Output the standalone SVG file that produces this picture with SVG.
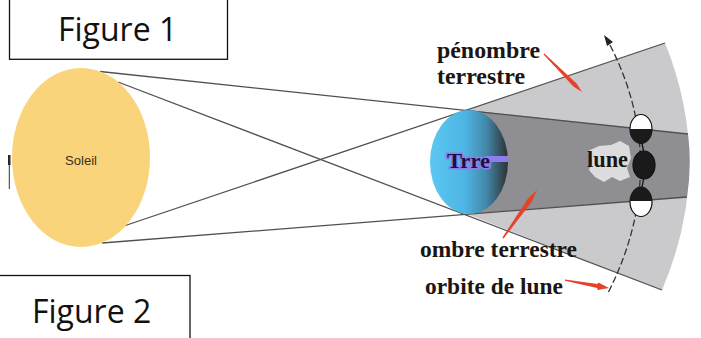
<svg xmlns="http://www.w3.org/2000/svg" width="701" height="338" viewBox="0 0 701 338">
  <defs>
    <linearGradient id="earthGrad" x1="0" y1="0" x2="1" y2="0">
      <stop offset="0" stop-color="#5CC8F2"/>
      <stop offset="0.45" stop-color="#4DB5E3"/>
      <stop offset="0.72" stop-color="#4288AB"/>
      <stop offset="1" stop-color="#2E3032"/>
    </linearGradient>
    <style>
      .fig { font-family: "Open Sans", "Liberation Sans", sans-serif; font-size: 32px; fill: #111; }
      .box { fill: #fff; stroke: #111; stroke-width: 1.3; }
      .lbl { font-family: "Liberation Serif", "Times New Roman", serif; font-weight: bold; font-size: 23px; fill: #1c1612; }
      .ray { stroke: #505050; stroke-width: 1.3; fill: none; }
      .red { fill: #E4422A; }
      .moon { stroke: #111; stroke-width: 1.2; }
    </style>
  </defs>

  <rect width="701" height="338" fill="#fff"/>

  <!-- shadow regions -->
  <g id="penombre">
    <path d="M467,110 L665,43 Q715,166 662,290 L467,214 Z" fill="#CACACC"/>
  </g>
  <g id="ombre">
    <path d="M468,110 L688,134 Q692,165 687,197 L467,214 Z" fill="#8F8F93"/>
  </g>

  <!-- rays -->
  <g id="connectors">
    <line class="ray" x1="100" y1="71.5" x2="688" y2="134"/>
    <line class="ray" x1="102" y1="243" x2="687" y2="197"/>
    <line class="ray" x1="118" y1="82" x2="662" y2="290"/>
    <line class="ray" x1="118" y1="228" x2="665" y2="43"/>
    <!-- orbit of the moon -->
    <path d="M610,45 Q672,166 608,293" fill="none" stroke="#333" stroke-width="1.3" stroke-dasharray="7 3"/>
    <polygon points="604,35 613,42 607,46" fill="#222"/>
    <!-- red pointer arrows -->
    <polygon class="red" points="544.4,53.6 576.6,83.4 582,92 573.4,86.6 543.6,54.4"/>
    <polygon class="red" points="503.6,238.4 532,201.4 537,190 528,198.6 502.4,237.6"/>
    <polygon class="red" points="565.1,279.4 597.5,284 598.4,282.6 609,288 597.6,290 597.2,288 564.9,280.8"/>
  </g>

  <!-- tick mark -->
  <g id="tick">
    <rect x="8" y="155" width="2.5" height="10" fill="#222"/>
    <line x1="9.3" y1="155" x2="9.3" y2="189" stroke="#333" stroke-width="1"/>
  </g>

  <!-- Sun -->
  <g id="soleil">
    <ellipse cx="81" cy="157.5" rx="69" ry="89.5" fill="#F9D47B"/>
    <text x="65" y="165" font-family="Liberation Sans, Arial, sans-serif" font-size="13" fill="#3a3020" textLength="32" lengthAdjust="spacingAndGlyphs">Soleil</text>
  </g>

  <!-- lune label blob -->
  <g id="lune-label">
    <path d="M588,151 L599,146 L611,145 L620,141 L629,146 L631,158 L627,168 L630,177 L620,181 L612,177 L604,182 L595,177 L589,170 L592,161 Z" fill="#DCDCDE"/>
    <text class="lbl" x="587" y="167" textLength="41" lengthAdjust="spacingAndGlyphs">lune</text>
  </g>

  <!-- Earth -->
  <g id="terre">
    <ellipse cx="469" cy="162" rx="39" ry="52" fill="url(#earthGrad)"/>
    <rect x="486" y="156" width="22" height="6" fill="#8E7DF2"/>
    <text x="447" y="168" font-family="Liberation Serif, serif" font-weight="bold" font-size="21" fill="#1a1240" stroke="#8E7DF2" stroke-width="3" paint-order="stroke" textLength="43" lengthAdjust="spacingAndGlyphs">Trre</text>
  </g>

  <!-- Moons -->
  <g id="lune1">
    <ellipse class="moon" cx="641" cy="129" rx="11" ry="14.5" fill="#fff"/>
    <path d="M630,129 A11,14.5 0 0 0 652,129 Z" fill="#1a1a1a"/>
  </g>
  <line x1="642" y1="143.5" x2="643.5" y2="151" stroke="#111" stroke-width="1.3"/>
  <g id="lune2">
    <ellipse class="moon" cx="644" cy="165" rx="11" ry="14" fill="#1a1a1a"/>
  </g>
  <line x1="643.5" y1="179" x2="642" y2="187.5" stroke="#111" stroke-width="1.3"/>
  <g id="lune3">
    <ellipse class="moon" cx="641" cy="202" rx="11" ry="14.5" fill="#fff"/>
    <path d="M630,201 A11,14.5 0 0 1 652,201 Z" fill="#1a1a1a"/>
  </g>

  <!-- Labels -->
  <g id="labels">
    <text class="lbl" x="437" y="58" textLength="103" lengthAdjust="spacingAndGlyphs">pénombre</text>
    <text class="lbl" x="437" y="84" textLength="88" lengthAdjust="spacingAndGlyphs">terrestre</text>
    <text class="lbl" x="420" y="257" textLength="157" lengthAdjust="spacingAndGlyphs">ombre terrestre</text>
    <text class="lbl" x="425" y="294" textLength="138" lengthAdjust="spacingAndGlyphs">orbite de lune</text>
  </g>

  <!-- Figure boxes -->
  <g id="figure1">
    <rect class="box" x="9.5" y="-2" width="218" height="61.3"/>
    <text class="fig" x="58" y="41">Figure 1</text>
  </g>
  <g id="figure2">
    <rect class="box" x="-2" y="275.5" width="192" height="70"/>
    <text class="fig" x="32" y="323">Figure 2</text>
  </g>
</svg>
